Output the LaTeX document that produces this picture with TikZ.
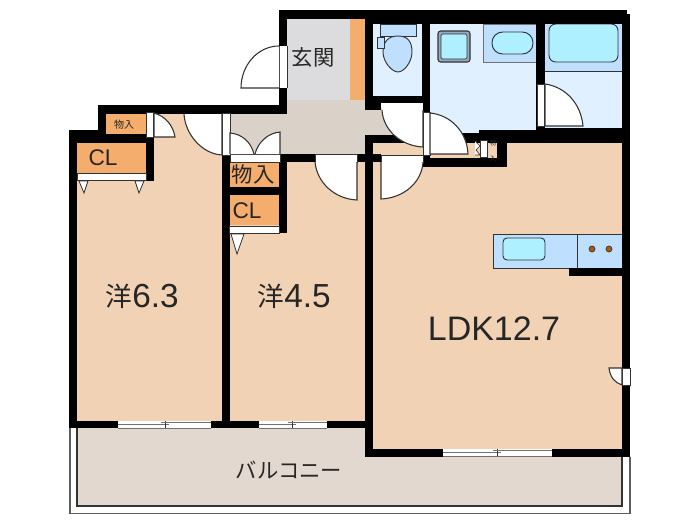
\documentclass[tikz,border=0pt]{standalone}
\usepackage{fontspec}
\setmainfont{Liberation Sans}
\newfontfamily\jpfont{Noto Sans CJK JP}
\definecolor{roomtan}{HTML}{F2D2B4}
\definecolor{closetor}{HTML}{F4AD6C}
\definecolor{hallgr}{HTML}{DAD1C9}
\definecolor{genkangr}{HTML}{DCDCDE}
\definecolor{waterbg}{HTML}{E0F0FF}
\definecolor{fixblue}{HTML}{BFDFFF}
\definecolor{fixcyan}{HTML}{AEF0FF}
\definecolor{balcony}{HTML}{E2D8CF}
\definecolor{linegr}{HTML}{333333}
\definecolor{burner}{HTML}{A85A10}
\tikzset{
  wall/.style={fill=black,draw=none},
  doorleaf/.style={fill=white,draw=linegr,line width=0.8pt},
  post/.style={fill=white,draw=none},
  fixture/.style={draw=linegr,line width=0.7pt},
  lbl/.style={inner sep=0pt,text=black!85},
}
\newcommand{\pxsize}[1]{\fontsize{#1}{#1}\selectfont}
\begin{document}
\begin{tikzpicture}[x=0.75pt,y=-0.75pt]
\useasboundingbox (0,0) rectangle (700,525);
% --- balcony
\fill[balcony] (77,428) rectangle (622,506);
\draw[linegr,line width=0.9pt] (77,428) -- (77,506) -- (622,506) -- (622,457);
\draw[linegr!80,line width=1.2pt] (70,428) -- (70,513.5) -- (630,513.5) -- (630,457);
% --- floor fills
\fill[roomtan] (77,143) rectangle (222,421);
\fill[roomtan] (154,114) rectangle (222,143);
\fill[roomtan] (230,160) rectangle (366,421);
\fill[roomtan] (372,143) rectangle (623,450);
\fill[closetor] (106,114) rectangle (146,134);
\fill[closetor] (77,143) rectangle (146,173);
\fill[closetor] (230,162) rectangle (279,187);
\fill[closetor] (230,195) rectangle (279,225);
\fill[closetor] (350,19) rectangle (366,100);
\fill[genkangr] (287,19) rectangle (350,100);
\fill[hallgr] (230,114) rectangle (366,155);
\fill[hallgr] (287,100) rectangle (366,114);
\fill[hallgr] (366,108) rectangle (423,135);
\fill[waterbg] (373,24) rectangle (422,96);
\fill[waterbg] (430,24) rectangle (537,133);
\fill[waterbg] (544,24) rectangle (622,128);
% --- fixtures
\draw[fixture,fill=fixblue] (380,24) rectangle (416,36);
\draw[fixture,fill=fixblue] (398,36) .. controls (388,36) and (383,42) .. (383,52) .. controls (383,62) and (392,72) .. (398,72) .. controls (404,72) and (412,62) .. (412,52) .. controls (412,42) and (408,36) .. (398,36) -- cycle;
\draw[line width=0.5pt,draw=linegr,fill=fixblue] (377,37) rectangle (384,48);
\draw[line width=0.8pt,draw=linegr,fill=fixblue!70!linegr,rounded corners=2pt] (438,31) rectangle (470,62);
\draw[line width=0.5pt,draw=linegr,fill=fixcyan,rounded corners=1pt] (441,34) rectangle (467,59);
\draw[line width=0.5pt,draw=linegr!70,fill=fixblue] (483,24) rectangle (536,62);
\draw[fixture,fill=fixcyan,rounded corners=8pt] (492,32) rectangle (533,54);
\fill[fixblue] (545,24) rectangle (622,71);
\draw[linegr,line width=0.6pt] (545,71) -- (622,71);
\draw[fixture,fill=fixcyan,rounded corners=5pt] (549,24) rectangle (618,62);
% kitchen
\draw[fixture,fill=fixblue] (493,234) rectangle (622,268);
\draw[fixture] (577,234) -- (577,268);
\draw[fixture,fill=fixcyan,rounded corners=3pt] (503,238) rectangle (545,260);
\draw[linegr,fill=burner,line width=0.5pt] (592,249) circle (3);
\draw[linegr,fill=burner,line width=0.5pt] (609,249) circle (3);
% --- walls
\foreach \xa/\ya/\xb/\yb in {
  279/10/627/19, 365/10/627/24, 536/14/630/24, 622/14/630/457,
  279/10/287/114, 98/105/287/114, 98/105/106/143, 69/130/106/143,
  106/134/154/143, 146/114/154/181, 69/130/77/428, 69/421/365/428,
  222/155/230/428, 230/154/381/162, 279/162/287/233, 230/187/279/195,
  365/135/373/457, 365/449/630/457, 365/19/373/110, 365/96/422/103,
  365/103/381/110, 422/10/430/112, 536/10/545/130, 479/130/630/143,
  545/128/630/143, 430/133/480/143, 365/135/423/143, 497/143/507/167,
  423/158/507/167, 423/150/430/167, 569/268/630/276}{
  \fill[wall] (\xa,\ya) rectangle (\xb,\yb);
}
% --- windows
\foreach \wa/\wb/\wm/\wy in {118/211/165/421, 259/327/292/421, 443/552/497/449}{
  \fill[white] (\wa,\wy) rectangle (\wb,\wy+7);
  \draw[linegr!70,line width=0.6pt] (\wa,\wy+7) -- (\wb,\wy+7);
  \draw[linegr!70,line width=0.6pt] (\wa,\wy+3.5) -- (\wm+4,\wy+3.5);
  \draw[linegr,line width=0.6pt] (\wm,\wy) -- (\wm,\wy+7);
  \draw[linegr!70,line width=0.6pt] (\wm-4,\wy+1.5) -- (\wb,\wy+1.5);
}
% --- closet fronts and triangles
\draw[post,draw=linegr,line width=0.4pt] (77,173) rectangle (146,180);
\draw[post,draw=linegr,line width=0.4pt] (229,226) rectangle (279,233);
\draw[doorleaf,line width=0.6pt] (79,181) -- (88,181) -- (84,193) -- cycle;
\draw[doorleaf,line width=0.6pt] (135,181) -- (144,181) -- (139,193) -- cycle;
\draw[doorleaf,line width=0.6pt] (231,234) -- (244,234) -- (237,254) -- cycle;
% --- entrance door
\fill[post] (279,46) rectangle (287,88);
\draw[linegr,line width=0.5pt] (279,46) -- (279,88) (287,46) -- (287,88);
\draw[doorleaf] (279,88) -- (241,88) .. controls (241,65) and (258,46) .. (279,46);
% --- room 1 doors
\fill[post] (146,112) rectangle (153,137);
\draw[linegr,line width=0.5pt] (146,112) rectangle (153,137);
\draw[doorleaf] (154,137) -- (175,137) .. controls (173,125) and (165,116) .. (154,113) -- cycle;
\fill[post] (222,113) rectangle (230,155);
\draw[linegr,line width=0.5pt] (222,113) rectangle (230,155);
\draw[doorleaf] (184,114) .. controls (185,134) and (202,154) .. (222,155) -- (222,114);
% --- hall double door
\fill[post] (230,154) rectangle (280,162);
\draw[linegr,line width=0.4pt] (230,154) rectangle (280,162);
\draw[doorleaf] (230,154) -- (230,133) .. controls (242,134) and (251,142) .. (254,154);
\draw[doorleaf] (280,154) -- (280,132) .. controls (268,133) and (258,142) .. (255,154);
% --- room 2 door
\fill[post] (315,154) rectangle (357,162);
\draw[linegr,line width=0.4pt] (315,154) rectangle (357,162);
\draw[doorleaf] (357,162) -- (357,200) .. controls (335,199) and (317,183) .. (315,162);
% --- toilet door
\fill[post] (382,103) rectangle (423,110);
\draw[linegr,line width=0.4pt] (382,110) -- (423,110);
\draw[doorleaf] (423,110) -- (423,147) .. controls (401,146) and (383,130) .. (382,110);
% --- wash-room door
\fill[post] (423,112) rectangle (430,155);
\draw[linegr,line width=0.4pt] (423,112) rectangle (430,155);
\draw[doorleaf] (430,113) .. controls (451,115) and (467,132) .. (468,154) -- (430,154) -- cycle;
% --- LDK door
\fill[post] (381,155) rectangle (423,162);
\draw[linegr,line width=0.4pt] (381,155) rectangle (423,162);
\draw[doorleaf] (381,162) -- (381,199) .. controls (404,198) and (422,182) .. (423,162);
% --- bathroom door
\fill[post] (537,84) rectangle (544,126);
\draw[linegr,line width=0.4pt] (537,84) rectangle (544,126);
\draw[doorleaf] (545,84) .. controls (566,87) and (581,104) .. (583,126) -- (545,126) -- cycle;
% --- small closet beside wash room
\fill[post] (480,140) rectangle (487,157);
\draw[linegr,line width=0.4pt] (480,140) rectangle (487,157);
\draw[linegr,line width=0.5pt,fill=white] (475,141) -- (480,146) -- (476,150) -- (480,155) -- (475,155);
% --- LDK small door
\fill[post] (622,368) rectangle (630,385);
\draw[linegr,line width=0.4pt] (622,368) rectangle (630,385);
\draw[doorleaf] (622,368) -- (609,368) .. controls (610,377) and (615,383) .. (622,385) -- cycle;
% --- labels
\node[lbl] (r1a) at (119,296) {\jpfont\pxsize{20}洋};
\node[lbl,anchor=west] (r1b) at (132,296) {\pxsize{25}6.3};
\node[lbl] (r2a) at (271,296) {\jpfont\pxsize{20}洋};
\node[lbl,anchor=west] (r2b) at (284,296) {\pxsize{25}4.5};
\node[lbl] (ldk) at (494,329) {\pxsize{25.5}LDK12.7};
\node[lbl] (genkan) at (313,57) {\jpfont\pxsize{16}玄関};
\node[lbl] (balc) at (289,470) {\jpfont\pxsize{16}バルコニー};
\node[lbl] (cl1) at (103,158) {\pxsize{17}CL};
\node[lbl] (cl2) at (247,211) {\pxsize{17}CL};
\node[lbl] (mono1) at (253,174) {\jpfont\pxsize{16}物入};
\node[lbl] (mono2) at (124,125) {\jpfont\pxsize{7.5}物入};
\node[lbl,align=center] (mono3) at (493,151) {\jpfont\pxsize{5}物\\[-0.5pt]\jpfont\pxsize{5}入};
\end{tikzpicture}
\end{document}
